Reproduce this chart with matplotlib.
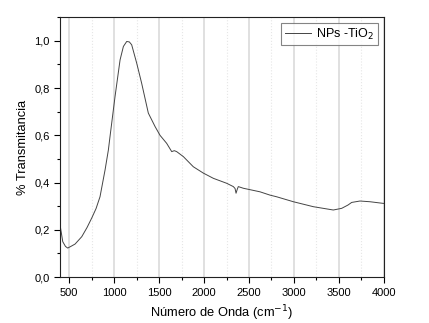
import numpy as np
import matplotlib.pyplot as plt
from matplotlib.ticker import MultipleLocator

plt.rcParams['font.family'] = ['Liberation Sans', 'DejaVu Sans']

# espectro
wavenumber = [400, 430, 460, 485, 520, 567, 641, 700, 752, 800, 844, 900, 937,
              955, 1011, 1067, 1104, 1141, 1170, 1196, 1252, 1307, 1381, 1456,
              1511, 1585, 1641, 1670, 1696, 1770, 1881, 1993, 2104, 2252, 2326,
              2345, 2356, 2368, 2381, 2437, 2622, 2733, 2807, 2993, 3215, 3437,
              3530, 3600, 3641, 3733, 3844, 3993, 4000]
transmit = [0.22, 0.15, 0.13, 0.123, 0.13, 0.14, 0.171, 0.21, 0.25, 0.29, 0.34,
            0.453, 0.538, 0.594, 0.764, 0.919, 0.976, 0.997, 0.995, 0.983,
            0.905, 0.82, 0.694, 0.637, 0.60, 0.566, 0.531, 0.535, 0.531, 0.51,
            0.467, 0.44, 0.418, 0.397, 0.383, 0.375, 0.355, 0.37, 0.383, 0.376,
            0.361, 0.347, 0.34, 0.319, 0.298, 0.284, 0.291, 0.305, 0.316, 0.322,
            0.319, 0.312, 0.312]

ytick_vals = [0.0, 0.2, 0.4, 0.6, 0.8, 1.0]
ytick_labels = ['0,0', '0,2', '0,4', '0,6', '0,8', '1,0']

fig = plt.figure(figsize=(4.29, 3.23), dpi=100)
ax = fig.add_axes([0.14, 0.142, 0.755, 0.805])

ax.plot(wavenumber, transmit, color='#444444', lw=0.7, label='NPs -TiO$_2$')

ax.set_xlim(400, 4000)
ax.set_ylim(0, 1.1)
ax.xaxis.set_major_locator(MultipleLocator(500))
ax.xaxis.set_minor_locator(MultipleLocator(250))
ax.set_yticks(ytick_vals)
ax.set_yticklabels(ytick_labels)
ax.yaxis.set_minor_locator(MultipleLocator(0.1))

ax.grid(True, which='major', axis='x', color='#e0e0e0', lw=1.4)
ax.grid(True, which='minor', axis='x', color='#e6e6e6', lw=0.8, ls=':')
ax.set_axisbelow(True)

ax.tick_params(which='both', direction='out', labelsize=8, top=False, right=False)
ax.tick_params(which='major', length=4, width=0.8)
ax.tick_params(which='minor', length=2.5, width=0.8)
for s in ax.spines.values():
    s.set_linewidth(0.8)
    s.set_color('#222222')

ax.set_xlabel('Número de Onda (cm$^{-1}$)', fontsize=9.3)
ax.set_ylabel('% Transmitancia', fontsize=9.3)

leg = ax.legend(loc='upper right', fontsize=9, frameon=True, fancybox=False,
                edgecolor='#666666', handlelength=2.1, handletextpad=0.4,
                borderpad=0.3, borderaxespad=0.45)
leg.get_frame().set_linewidth(0.8)

fig.savefig('out.png', dpi=100)
